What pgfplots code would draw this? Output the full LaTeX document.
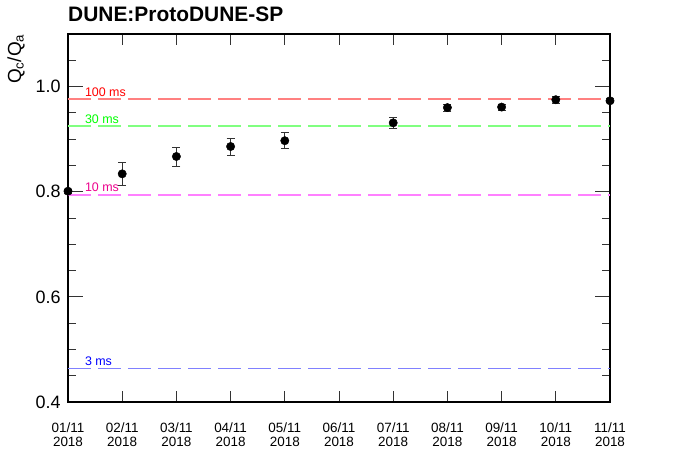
\documentclass[border=0pt]{standalone}
\usepackage{fontspec}
\setmainfont{Liberation Sans}
\usepackage{pgfplots}
\pgfplotsset{compat=1.18}
\definecolor{lred}{RGB}{255,128,128}
\definecolor{lgreen}{RGB}{128,255,128}
\definecolor{lmag}{RGB}{255,128,255}
\definecolor{lblue}{RGB}{128,128,255}
\begin{document}
\begin{tikzpicture}[x=1bp,y=1bp]
\useasboundingbox (-68bp,-58bp) rectangle (610bp,402bp);
\begin{axis}[
  at={(0,0)}, anchor=origin,
  scale only axis, width=542bp, height=368bp,
  xmin=0, xmax=10, ymin=0.4, ymax=1.1,
  clip=false,
  axis line style={line width=1.6bp},
  tick align=inside,
  tick style={line width=0.8bp, black!80},
  xtick={0,1,...,10},
  xticklabels={{01/11\\2018},{02/11\\2018},{03/11\\2018},{04/11\\2018},{05/11\\2018},{06/11\\2018},{07/11\\2018},{08/11\\2018},{09/11\\2018},{10/11\\2018},{11/11\\2018}},
  xticklabel style={align=center, font=\fontsize{13.5}{14.5}\selectfont, yshift=-17bp},
  ytick={0.4,0.6,0.8,1.0},
  yticklabels={0.4,0.6,0.8,1.0},
  minor ytick={0.45,0.5,0.55,0.65,0.7,0.75,0.85,0.9,0.95,1.05},
  yticklabel style={font=\fontsize{18}{20}\selectfont, xshift=-4bp},
  major tick length=15bp,
  minor tick length=8bp,
  xtick style={/pgfplots/major tick length=11bp},
  /pgf/number format/assume math mode=true,
  title={DUNE:ProtoDUNE-SP},
  title style={at={(0,1)}, anchor=base west, yshift=7bp, font=\bfseries\fontsize{21}{24}\selectfont, inner sep=0pt},
  ylabel={Q\textsubscript{c}/Q\textsubscript{a}},
  every axis y label/.style={at={(axis description cs:0,1)}, xshift=-52bp, rotate=90, anchor=east, font=\fontsize{19}{22}\selectfont, inner sep=0pt},
]
\addplot[lred, line width=1.5bp, dash pattern=on 23bp off 7bp] coordinates {(0,0.976) (10,0.976)};
\addplot[lgreen, line width=1.5bp, dash pattern=on 23bp off 7bp] coordinates {(0,0.925) (10,0.925)};
\addplot[lmag, line width=1.5bp, dash pattern=on 23bp off 7bp] coordinates {(0,0.794) (10,0.794)};
\addplot[lblue, line width=1.5bp, dash pattern=on 23bp off 7bp] coordinates {(0,0.464) (10,0.464)};
\node[anchor=base west, text=red, font=\fontsize{12.5}{14}\selectfont, inner sep=0pt, yshift=3bp] at (axis cs:0.31,0.976) {100 ms};
\node[anchor=base west, text=green, font=\fontsize{12.5}{14}\selectfont, inner sep=0pt, yshift=3bp] at (axis cs:0.31,0.925) {30 ms};
\node[anchor=base west, text=magenta, font=\fontsize{12.5}{14}\selectfont, inner sep=0pt, yshift=3bp] at (axis cs:0.31,0.794) {10 ms};
\node[anchor=base west, text=blue, font=\fontsize{12.5}{14}\selectfont, inner sep=0pt, yshift=3bp] at (axis cs:0.31,0.464) {3 ms};
\addplot[only marks, mark=*, mark size=4.2bp, black,
  error bars/.cd, y dir=both, y explicit,
  error bar style={line width=0.8bp, black!80},
  error mark options={rotate=90, mark size=4bp, line width=0.8bp, black!80}]
  table[x=x, y=y, y error=e] {
x y e
0 0.801 0.004
1 0.834 0.022
2 0.867 0.018
3 0.886 0.016
4 0.897 0.015
6 0.931 0.010
7 0.960 0.007
8 0.961 0.006
9 0.975 0.007
10 0.973 0.004
};
\end{axis}
\end{tikzpicture}
\end{document}
